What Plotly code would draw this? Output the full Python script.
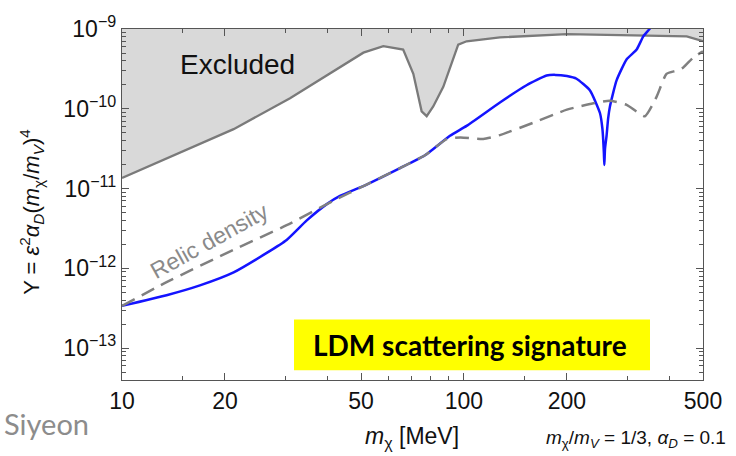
import math
import plotly.graph_objects as go

# ---- data -----------------------------------------------------------------
# Upper excluded region boundary
excl_m = [10, 21.2, 31.0, 39.7, 50.8, 58.1, 66.4, 71.1, 75.2, 77.8, 81.3, 87.0,
          96.2, 101.8, 127.4, 200, 391, 448, 500]
excl_y = [1.355e-11, 5.55e-11, 1.352e-10, 2.61e-10, 5.05e-10, 6.10e-10, 5.53e-10,
          2.74e-10, 9.29e-11, 8.07e-11, 1.07e-10, 1.88e-10, 6.37e-10, 7.02e-10,
          7.85e-10, 8.61e-10, 8.30e-10, 8.07e-10, 7.02e-10]

# LDM scattering signature curve
sig_m = [10, 13.5, 16.9, 21.2, 26.5, 30.3, 34.7, 39.7, 43.4, 51.9, 65, 76.9, 91,
         101.8, 127.4, 152.4, 174.4, 185, 200, 213.4, 233.4, 249.8, 254, 256.5,
         257.3, 258.5, 261.2, 264, 267.2, 279.4, 299.1, 319.9, 334.4, 350, 360]
sig_y = [3.39e-13, 4.60e-13, 6.11e-13, 8.89e-13, 1.56e-12, 2.27e-12, 3.99e-12,
         6.38e-12, 8.07e-12, 1.12e-11, 1.80e-11, 2.61e-11, 4.59e-11, 6.10e-11,
         1.20e-10, 1.97e-10, 2.61e-10, 2.66e-10, 2.57e-10, 2.38e-10, 1.71e-10,
         8.85e-11, 5.62e-11, 2.82e-11, 1.97e-11, 3.16e-11, 4.59e-11, 7.59e-11,
         1.07e-10, 2.27e-10, 4.18e-10, 5.53e-10, 8.07e-10, 1.02e-9, 1.26e-9]

# Relic density curve
relic_m = [10, 13.5, 21.2, 30.3, 41.5, 51.9, 65, 76.9, 89, 97.6, 113.9, 127.4,
           159.4, 200, 239, 267, 299, 338, 366, 391, 419, 438, 468, 500]
relic_y = [3.39e-13, 6.70e-13, 1.71e-12, 3.47e-12, 7.02e-12, 1.12e-11, 1.80e-11,
           2.61e-11, 4.17e-11, 4.37e-11, 4.19e-11, 4.68e-11, 6.68e-11, 9.75e-11,
           1.17e-10, 1.26e-10, 1.12e-10, 8.07e-11, 1.42e-10, 2.74e-10, 3.01e-10,
           3.30e-10, 4.38e-10, 5.25e-10]

x_ticks = [10, 20, 50, 100, 200, 500]
x_minor = [15, 30, 40, 60, 70, 80, 90, 150, 300, 400]
y_ticks = [1e-13, 1e-12, 1e-11, 1e-10, 1e-9]
y_minor = [k * 10.0 ** e for e in range(-14, -9) for k in range(2, 10)]

X_RANGE = [1.0, 2.69897]       # log10(10) .. log10(500)
Y_RANGE = [-13.4, -9.0]
Y_TOP = 10 ** Y_RANGE[1]

FONT = "Liberation Sans, Arial, sans-serif"
GRAY = "#7a7a7a"

fig = go.Figure()

# excluded band: top edge, then boundary filled up to it
fig.add_trace(go.Scatter(x=excl_m, y=[Y_TOP] * len(excl_m), mode="lines",
                         line=dict(width=0), hoverinfo="skip", showlegend=False))
fig.add_trace(go.Scatter(x=excl_m, y=excl_y, mode="lines", fill="tonexty",
                         fillcolor="#d9d9d9", line=dict(color=GRAY, width=2.3),
                         showlegend=False))
fig.add_trace(go.Scatter(x=sig_m, y=sig_y, mode="lines",
                         line=dict(color="#1414ff", width=2.5, shape="spline", smoothing=0.5),
                         showlegend=False))
fig.add_trace(go.Scatter(x=relic_m, y=relic_y, mode="lines",
                         line=dict(color="#808080", width=2.5, dash="14px,8px",
                                   shape="spline", smoothing=0.5),
                         showlegend=False))

axis_common = dict(showline=True, linecolor="#555555", linewidth=1.3, mirror="allticks",
                   ticks="inside", ticklen=7, tickcolor="#555555", tickwidth=1.2,
                   showgrid=False, zeroline=False,
                   tickfont=dict(family=FONT, size=23, color="#111111"))

fig.update_xaxes(type="log", range=X_RANGE, tickmode="array", tickvals=x_ticks,
                 ticktext=[str(v) for v in x_ticks],
                 minor=dict(tickmode="array", tickvals=x_minor, ticks="inside",
                            ticklen=4, tickcolor="#555555", showgrid=False),
                 **axis_common)
fig.update_yaxes(type="log", range=Y_RANGE, tickmode="array", tickvals=y_ticks,
                 ticktext=["10<sup>\u2212%d</sup>" % -int(round(math.log10(v)))
                           for v in y_ticks],
                 minor=dict(tickmode="array", tickvals=y_minor, ticks="inside",
                            ticklen=4, tickcolor="#555555", showgrid=False),
                 **axis_common)

L, R, T, B = 122, 33, 21, 76
W, H = 736, 456
pw, ph = W - L - R, H - T - B


def px(xp):
    return (xp - L) / pw


def py(yp):
    return (H - B - yp) / ph


annotations = [
    dict(text="Excluded", x=px(237), y=py(57), font=dict(family=FONT, size=28, color="#111111")),
    dict(text="Relic density", x=px(209), y=py(238), textangle=-29,
         font=dict(family=FONT, size=23, color="#8a8a8a")),
    dict(text="<b>LDM scattering signature</b>", x=px(470), y=py(344),
         font=dict(family="Lato, sans-serif", size=28, color="#000000")),
    dict(text="Y = <i>\u03b5</i><sup>2</sup><i>\u03b1</i><sub><i>D</i></sub>(<i>m</i><sub>\u03c7</sub>/<i>m</i><sub><i>V</i></sub>)<sup>4</sup>",
         x=px(32), y=py(208), textangle=-90, font=dict(family=FONT, size=22, color="#111111")),
    dict(text="<i>m</i><sub>\u03c7</sub> [MeV]", x=px(412), y=py(439),
         font=dict(family=FONT, size=23, color="#111111")),
    dict(text="<i>m</i><sub>\u03c7</sub>/<i>m</i><sub><i>V</i></sub> = 1/3, <i>\u03b1</i><sub><i>D</i></sub> = 0.1",
         x=px(728), y=py(440), xanchor="right", font=dict(family=FONT, size=19, color="#111111")),
    dict(text="Siyeon", x=px(2), y=py(425), xanchor="left",
         font=dict(family="Lato, sans-serif", size=29, color="#8c8c8c")),
]
for a in annotations:
    a.setdefault("xanchor", "center")
    a.update(xref="paper", yref="paper", yanchor="middle", showarrow=False)

fig.update_layout(
    width=W, height=H,
    margin=dict(l=L, r=R, t=T, b=B),
    paper_bgcolor="white", plot_bgcolor="white",
    annotations=annotations,
    shapes=[dict(type="rect", xref="paper", yref="paper", x0=px(294), x1=px(650),
                 y0=py(370), y1=py(318), fillcolor="#ffff00", line=dict(width=0),
                 layer="above")],
)

fig.write_html("out.html")
